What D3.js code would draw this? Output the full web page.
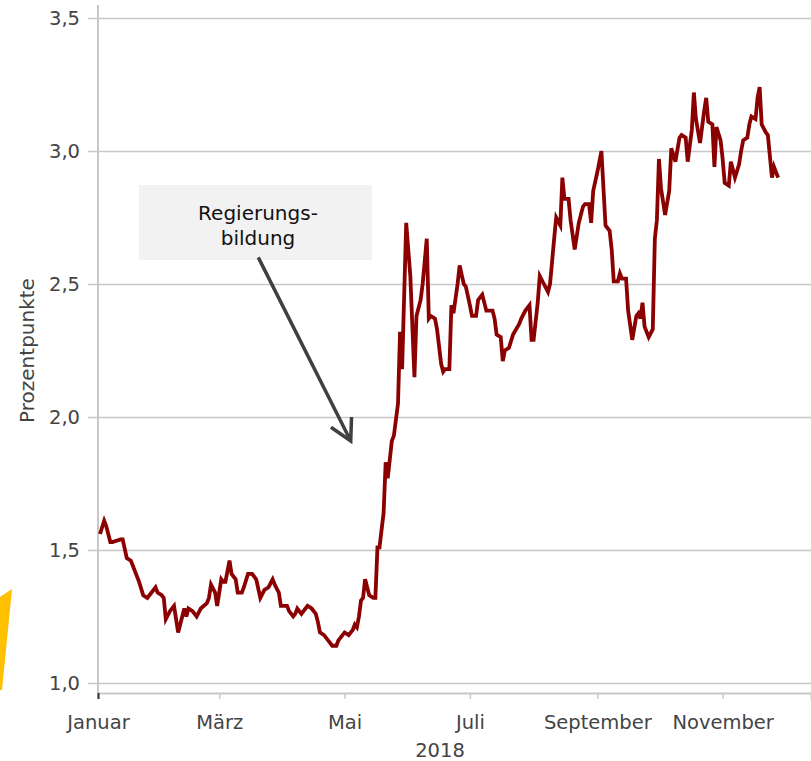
<!DOCTYPE html>
<html>
  <head>
    <meta charset="utf-8">
    <title>Renditeabstand 2018</title>
    <script src="https://d3js.org/d3.v7.min.js"></script>
    <style>
      body { margin: 0; background: #fff; }
      svg text { font-family: "DejaVu Sans", Verdana, sans-serif; }
    </style>
  </head>
  <body>
    <div id="graph"></div>
  </body>

  <script>
    // Tag des Jahres 2018 (0 = 1. Januar) und Abstand in Prozentpunkten
    const tage = [
      1, 3, 4, 6, 7, 11, 12, 14, 16, 17,
      19, 20, 22, 24, 28, 29, 31, 32, 33, 35,
      37, 39, 41, 42, 43, 44, 46, 48, 50, 53,
      54, 55, 57, 58, 60, 61, 62, 64, 65, 67,
      68, 70, 71, 73, 75, 77, 79, 81, 83, 85,
      86, 88, 89, 92, 93, 95, 96, 97, 99, 100,
      102, 104, 106, 107, 108, 110, 112, 114, 116, 117,
      119, 120, 122, 124, 125, 126, 127, 128, 129, 130,
      132, 134, 135, 136, 137, 139, 140, 141, 143, 144,
      146, 147, 148, 150, 152, 154, 155, 157, 158, 160,
      161, 162, 164, 165, 167, 168, 169, 171, 172, 173,
      175, 176, 178, 179, 181, 182, 184, 185, 187, 189,
      192, 193, 194, 196, 197, 198, 200, 202, 205, 206,
      208, 210, 211, 212, 214, 215, 217, 219, 220, 222,
      223, 225, 226, 227, 229, 230, 232, 234, 236, 237,
      239, 240, 241, 243, 245, 247, 249, 250, 251, 253,
      254, 255, 257, 258, 260, 262, 263, 264, 265, 266,
      268, 270, 271, 272, 273, 274, 276, 278, 279, 281,
      283, 284, 286, 287, 289, 290, 291, 293, 295, 296,
      297, 299, 300, 301, 303, 304, 305, 307, 308, 310,
      312, 313, 314, 316, 317, 318, 320, 321, 322, 323,
      325, 326, 328, 329, 331
    ];
    const spread = [
      1.56, 1.61, 1.59, 1.53, 1.53, 1.54, 1.54, 1.47, 1.46, 1.44,
      1.40, 1.38, 1.33, 1.32, 1.36, 1.34, 1.33, 1.32, 1.24, 1.27,
      1.29, 1.19, 1.25, 1.28, 1.25, 1.28, 1.27, 1.25, 1.28, 1.30,
      1.32, 1.37, 1.34, 1.29, 1.39, 1.38, 1.38, 1.46, 1.41, 1.39,
      1.34, 1.34, 1.36, 1.41, 1.41, 1.39, 1.32, 1.35, 1.36, 1.39,
      1.37, 1.34, 1.29, 1.29, 1.27, 1.25, 1.26, 1.28, 1.26, 1.27,
      1.29, 1.28, 1.26, 1.23, 1.19, 1.18, 1.16, 1.14, 1.14, 1.16,
      1.18, 1.19, 1.18, 1.20, 1.22, 1.21, 1.25, 1.31, 1.32, 1.39,
      1.33, 1.32, 1.32, 1.51, 1.51, 1.64, 1.83, 1.77, 1.91, 1.93,
      2.05, 2.32, 2.18, 2.73, 2.53, 2.15, 2.38, 2.44, 2.50, 2.67,
      2.37, 2.38, 2.37, 2.33, 2.20, 2.17, 2.18, 2.18, 2.42, 2.39,
      2.50, 2.57, 2.50, 2.49, 2.42, 2.38, 2.38, 2.44, 2.46, 2.40,
      2.40, 2.37, 2.31, 2.30, 2.21, 2.25, 2.26, 2.31, 2.35, 2.37,
      2.40, 2.42, 2.29, 2.29, 2.43, 2.53, 2.50, 2.47, 2.50, 2.67,
      2.75, 2.72, 2.90, 2.82, 2.82, 2.74, 2.63, 2.73, 2.79, 2.80,
      2.80, 2.73, 2.85, 2.92, 3.00, 2.72, 2.70, 2.63, 2.51, 2.51,
      2.54, 2.52, 2.52, 2.40, 2.29, 2.38, 2.39, 2.37, 2.43, 2.34,
      2.30, 2.33, 2.67, 2.74, 2.97, 2.86, 2.76, 2.85, 3.01, 2.96,
      3.05, 3.06, 3.05, 2.96, 3.08, 3.22, 3.12, 3.03, 3.15, 3.20,
      3.11, 3.10, 2.94, 3.09, 3.04, 2.97, 2.88, 2.87, 2.96, 2.90,
      2.95, 3.00, 3.04, 3.05, 3.10, 3.13, 3.12, 3.20, 3.24, 3.10,
      3.07, 3.06, 2.90, 2.94, 2.90
    ];

    // Achsenbeschriftungen
    const yTicks = [1.0, 1.5, 2.0, 2.5, 3.0, 3.5];
    const xTicks = ["2018-01-01", "2018-03-01", "2018-05-01", "2018-07-01", "2018-09-01", "2018-11-01"];
    const monate = ["Januar", "März", "Mai", "Juli", "September", "November"];

    // Annotation: Pfeil von (Datum, Wert) nach (Datum, Wert)
    const annoText = ["Regierungs-", "bildung"];
    const annoFrom = ["2018-03-20", 2.60];
    const annoTo = ["2018-05-04", 1.91];

    const width = 811;
    const height = 761;
    const margin = ({top: 5, right: 0, bottom: 68, left: 98});
    const font = "'DejaVu Sans', Verdana, sans-serif";
    const tickFont = 19.5;
    const parse = d3.timeParse("%Y-%m-%d");
    const start = new Date(2018, 0, 1);

    const data = tage.map((t, i) => ({date: d3.timeDay.offset(start, t), value: spread[i]}));

    let svg = d3.select("#graph").append("svg")
      .attr("width", width)
      .attr("height", height)
      .attr("font-family", font);

    let x = d3.scaleTime()
      .domain([start, new Date(2018, 11, 14)])
      .range([margin.left, width - margin.right]);
    let y = d3.scaleLinear()
      .domain([1, 3.5])
      .range([683, 18]);

    // gelbes Eck unten links (Logo-Rest)
    svg.append("path")
      .attr("d", "M0,597 L12,589 L2,690 L0,690 Z")
      .attr("fill", "#ffc000");

    // Gitterlinien + y-Achse
    let y_axis = d3.axisLeft(y)
      .tickValues(yTicks)
      .tickSize(-(width - margin.left + 10))
      .tickPadding(8)
      .tickFormat(d => d3.format(".1f")(d).replace(".", ","));
    svg.append("g")
      .attr("transform", `translate(${margin.left - 10}, 0)`)
      .call(y_axis)
      .attr("font-family", font)
      .attr("font-size", tickFont)
      .call(g => g.select(".domain").remove())
      .call(g => g.selectAll(".tick line").attr("stroke", "#c8c8c8").attr("stroke-width", 1.6))
      .call(g => g.selectAll(".tick text").attr("fill", "#444"));

    svg.append("line")
      .attr("x1", margin.left).attr("x2", margin.left)
      .attr("y1", margin.top).attr("y2", height - margin.bottom)
      .attr("stroke", "#c8c8c8")
      .attr("stroke-width", 2);

    // x-Achse
    let x_axis = d3.axisBottom(x)
      .tickValues(xTicks.map(parse))
      .tickSize(6)
      .tickPadding(16)
      .tickFormat((d, i) => monate[i]);
    svg.append("g")
      .attr("transform", `translate(0, ${height - margin.bottom})`)
      .call(x_axis)
      .attr("font-family", font)
      .attr("font-size", tickFont)
      .call(g => g.select(".domain").attr("stroke", "#c8c8c8").attr("stroke-width", 2))
      .call(g => g.selectAll(".tick line").attr("stroke", "#c8c8c8").attr("stroke-width", 1.5))
      .call(g => g.select(".tick line").attr("stroke", "#333").attr("stroke-width", 2))
      .call(g => g.selectAll(".tick text").attr("fill", "#444"));

    svg.append("text")
      .attr("x", 440)
      .attr("y", 757)
      .attr("text-anchor", "middle")
      .attr("fill", "#444")
      .attr("font-size", tickFont)
      .text("2018");

    svg.append("text")
      .attr("transform", `translate(34, ${y(2.25)}) rotate(-90)`)
      .attr("text-anchor", "middle")
      .attr("fill", "#444")
      .attr("font-size", 20)
      .text("Prozentpunkte");

    // Linie
    let line = d3.line()
      .x(d => x(d.date))
      .y(d => y(d.value));
    svg.append("path")
      .datum(data)
      .attr("fill", "none")
      .attr("stroke", "#8b0000")
      .attr("stroke-width", 3.8)
      .attr("d", line);

    // Annotation
    const ax0 = x(parse(annoFrom[0])), ay0 = y(annoFrom[1]);
    const ax1 = x(parse(annoTo[0])), ay1 = y(annoTo[1]);
    svg.append("rect")
      .attr("x", 139).attr("y", 185)
      .attr("width", 233).attr("height", 75)
      .attr("fill", "#f2f2f2");
    svg.append("text")
      .attr("text-anchor", "middle")
      .attr("fill", "#111")
      .attr("font-size", 20)
      .selectAll("tspan")
      .data(annoText)
      .enter()
      .append("tspan")
      .attr("x", 258)
      .attr("y", (d, i) => 220 + i * 25)
      .text(d => d);

    const ang = Math.atan2(ay1 - ay0, ax1 - ax0);
    const head = 24, spread_ang = 0.5;
    svg.append("path")
      .attr("d", `M${ax0},${ay0} L${ax1},${ay1}` +
        ` M${ax1 - head * Math.cos(ang - spread_ang)},${ay1 - head * Math.sin(ang - spread_ang)}` +
        ` L${ax1},${ay1}` +
        ` L${ax1 - head * Math.cos(ang + spread_ang)},${ay1 - head * Math.sin(ang + spread_ang)}`)
      .attr("fill", "none")
      .attr("stroke", "#404040")
      .attr("stroke-width", 3.5);
  </script>
</html>
